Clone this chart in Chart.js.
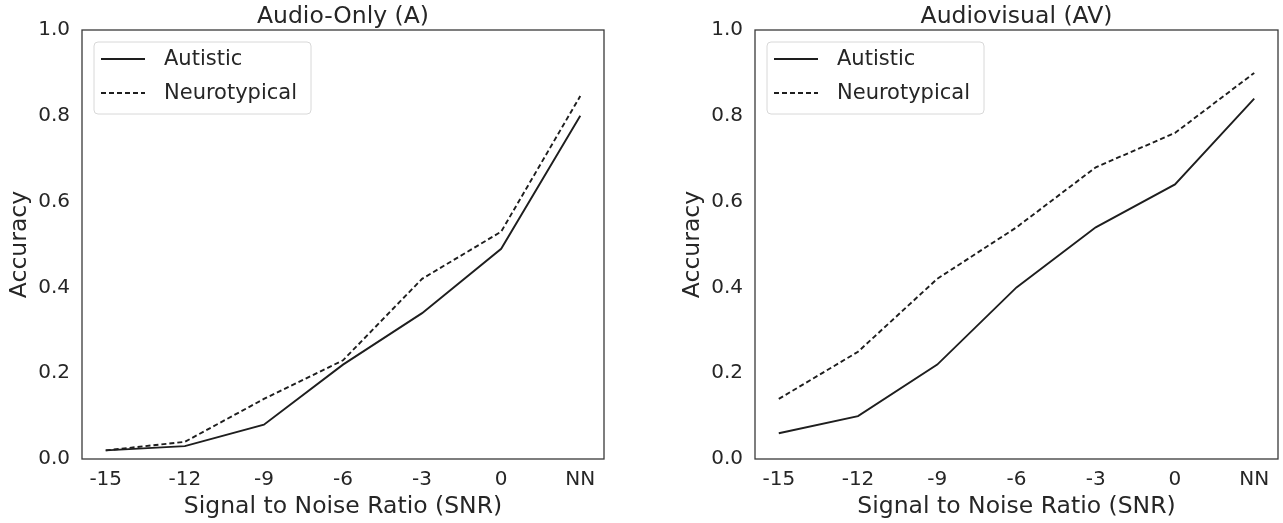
<!DOCTYPE html>
<html>
<head>
<meta charset="utf-8">
<script src="https://cdn.jsdelivr.net/npm/chart.js@4/dist/chart.umd.min.js"></script>
<style>
  html, body { margin: 0; padding: 0; background: #ffffff; }
  body { width: 1283px; height: 523px; position: relative; overflow: hidden; }
  .panel { position: absolute; top: 0; height: 523px; }
  #p1 { left: 0; width: 640px; }
  #p2 { left: 640px; width: 643px; }
</style>
</head>
<body>
<div class="panel" id="p1"><canvas id="c1"></canvas></div>
<div class="panel" id="p2"><canvas id="c2"></canvas></div>
<script>
// ---- data ----
const snrLabels = ['-15', '-12', '-9', '-6', '-3', '0', 'NN'];
const yTicks = [0, 0.2, 0.4, 0.6, 0.8, 1.0];
const seriesNames = ['Autistic', 'Neurotypical'];
const panelTitles = ['Audio-Only (A)', 'Audiovisual (AV)'];
const audioAutistic = [0.02, 0.03, 0.08, 0.22, 0.34, 0.49, 0.80];
const audioNeurotypical = [0.02, 0.04, 0.14, 0.23, 0.42, 0.53, 0.846];
const avAutistic = [0.06, 0.10, 0.22, 0.40, 0.54, 0.64, 0.84];
const avNeurotypical = [0.14, 0.25, 0.42, 0.54, 0.68, 0.76, 0.90];

const TEXT = '#262626';
const FONT = "'DejaVu Sans', sans-serif";

function pts(vals) { return vals.map((v, i) => ({ x: i, y: v })); }

const framePlugin = {
  id: 'frame',
  afterDraw(chart) {
    const { ctx, chartArea: a } = chart;
    ctx.save();
    ctx.strokeStyle = '#3a3a3a';
    ctx.lineWidth = 1.3;
    ctx.strokeRect(a.left, a.top, a.right - a.left, a.bottom - a.top);
    // title
    const t = chart.options.plugins.panelTitle.text;
    ctx.fillStyle = TEXT;
    ctx.font = '23.5px ' + FONT;
    ctx.textAlign = 'center';
    ctx.textBaseline = 'middle';
    ctx.fillText(t, (a.left + a.right) / 2, 17);
    // legend
    const bx = a.left + 12, by = a.top + 12, bw = 217, bh = 72, r = 4;
    ctx.beginPath();
    ctx.moveTo(bx + r, by);
    ctx.arcTo(bx + bw, by, bx + bw, by + bh, r);
    ctx.arcTo(bx + bw, by + bh, bx, by + bh, r);
    ctx.arcTo(bx, by + bh, bx, by, r);
    ctx.arcTo(bx, by, bx + bw, by, r);
    ctx.closePath();
    ctx.fillStyle = 'rgba(255,255,255,0.85)';
    ctx.fill();
    ctx.strokeStyle = '#d8d8d8';
    ctx.lineWidth = 1;
    ctx.stroke();
    chart.data.datasets.forEach((ds, i) => {
      const yy = by + 17 + i * 34;
      ctx.beginPath();
      ctx.setLineDash(ds.borderDash || []);
      ctx.strokeStyle = ds.borderColor;
      ctx.lineWidth = ds.borderWidth;
      ctx.moveTo(bx + 7, yy);
      ctx.lineTo(bx + 51, yy);
      ctx.stroke();
      ctx.setLineDash([]);
      ctx.fillStyle = TEXT;
      ctx.font = '21px ' + FONT;
      ctx.textAlign = 'left';
      ctx.textBaseline = 'middle';
      ctx.fillText(ds.label, bx + 70, yy + 1);
    });
    ctx.restore();
  }
};

function makeChart(id, title, a, n, leftPad, rightPad) {
  return new Chart(document.getElementById(id), {
    type: 'line',
    data: {
      datasets: [
        { label: seriesNames[0], data: pts(a), borderColor: '#1e1e1e', borderWidth: 1.9,
          pointRadius: 0, tension: 0, fill: false },
        { label: seriesNames[1], data: pts(n), borderColor: '#1e1e1e', borderWidth: 1.9,
          borderDash: [5, 3], pointRadius: 0, tension: 0, fill: false }
      ]
    },
    options: {
      responsive: true,
      maintainAspectRatio: false,
      animation: false,
      devicePixelRatio: 1,
      layout: { padding: { top: 30, left: leftPad, right: rightPad, bottom: 0 } },
      plugins: {
        legend: { display: false },
        tooltip: { enabled: false },
        title: { display: false },
        panelTitle: { text: title }
      },
      scales: {
        x: {
          type: 'linear',
          min: -0.3,
          max: snrLabels.length - 1 + 0.3,
          grid: { display: false, drawTicks: false },
          border: { display: false },
          afterBuildTicks: s => { s.ticks = snrLabels.map((_, i) => ({ value: i })); },
          afterFit: s => { s.height = 64; },
          ticks: {
            color: TEXT, font: { family: FONT, size: 20 }, padding: 9,
            autoSkip: false, maxRotation: 0,
            callback: v => snrLabels[v]
          },
          title: { display: true, text: 'Signal to Noise Ratio (SNR)', color: TEXT,
                   font: { family: FONT, size: 23.5 }, padding: { top: 0, bottom: 2 } }
        },
        y: {
          min: 0, max: 1,
          grid: { display: false, drawTicks: false },
          border: { display: false },
          afterBuildTicks: s => { s.ticks = yTicks.map(v => ({ value: v })); },
          afterFit: s => { s.width = 82; },
          ticks: {
            color: TEXT, font: { family: FONT, size: 20 }, padding: 12,
            callback: v => Number(v).toFixed(1)
          },
          title: { display: true, text: 'Accuracy', color: TEXT,
                   font: { family: FONT, size: 23.5 }, padding: { top: 6, bottom: 0 } }
        }
      }
    },
    plugins: [framePlugin]
  });
}

makeChart('c1', panelTitles[0], audioAutistic, audioNeurotypical, 0, 36);
makeChart('c2', panelTitles[1], avAutistic, avNeurotypical, 33, 5);
</script>
</body>
</html>
